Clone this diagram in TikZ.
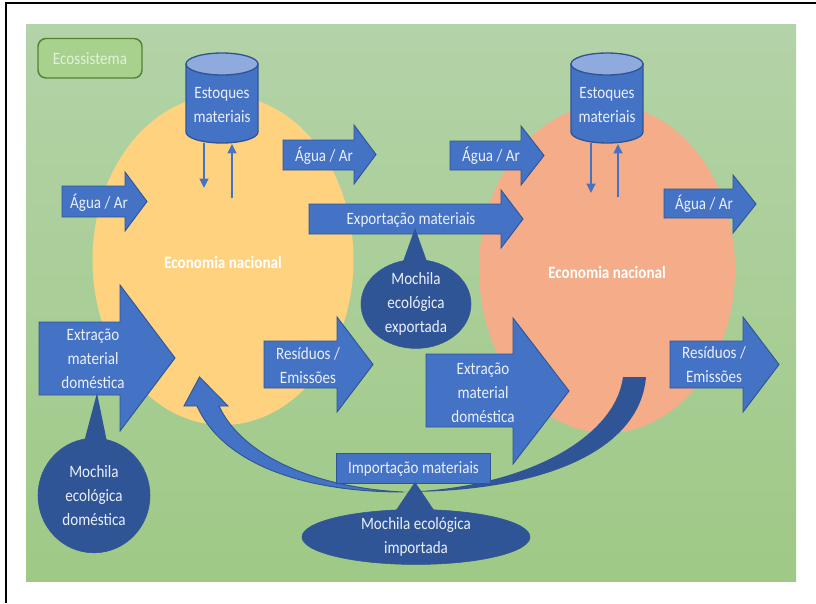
\documentclass[tikz,border=0pt]{standalone}
\usepackage{fontspec}
\setmainfont[FakeStretch=0.87]{Carlito}
\usetikzlibrary{shapes.geometric,arrows.meta}
\definecolor{flow}{HTML}{4472C4}
\definecolor{flowdark}{HTML}{2F5597}
\definecolor{flowlight}{HTML}{8FAADC}
\definecolor{txt}{HTML}{EAF0FA}
\definecolor{econA}{HTML}{FFD27F}
\definecolor{econB}{HTML}{F4AD88}
\definecolor{bgtop}{HTML}{B3D3A8}
\definecolor{bgbot}{HTML}{9FC986}
\definecolor{ecofill}{HTML}{A9D18E}
\definecolor{ecoline}{HTML}{548235}
\definecolor{ecotext}{HTML}{E2F0D9}
\tikzset{
  labelfont/.style={font=\fontsize{13}{18}\selectfont},
  flowshape/.style={fill=flow,draw=flowdark,line width=0.7pt,line join=miter},
  flowtext/.style={text=txt,align=center,inner sep=0pt,labelfont},
  econ/.style={ellipse,inner sep=0pt,draw=none},
  econtext/.style={text=white,inner sep=0pt,font=\fontsize{13}{18}\selectfont\bfseries},
  backpack/.style={ellipse,fill=flowdark,draw=flowdark,inner sep=0pt,text=txt,align=center,labelfont},
  spike/.style={fill=flowdark},
  stockarrow/.style={draw=flow,line width=1.6pt,-{Triangle[length=7pt,width=6.5pt]}},
  cylbody/.style={fill=flow,draw=flowdark,line width=1pt},
  cyltop/.style={fill=flowlight,draw=flowdark,line width=1pt}
}
% tail x, neck x, tip x, shaft top, shaft bottom, head top, head bottom
\newcommand{\flowarrow}[7]{%
  \draw[flowshape] (#1,#4) -- (#2,#4) -- (#2,#6) -- (#3,{(#6+#7)/2}) -- (#2,#7) -- (#2,#5) -- (#1,#5) -- cycle;}
% centre x of a stock cylinder
\newcommand{\stock}[1]{%
  \draw[cylbody] ({#1-36},64) -- ({#1-36},132) arc[start angle=180,end angle=0,x radius=36,y radius=11] -- ({#1+36},64) -- cycle;
  \draw[cyltop] (#1,64) ellipse[x radius=36,y radius=11];}
\begin{document}
\begin{tikzpicture}[x=0.75pt,y=-0.75pt]
\useasboundingbox (0,0) rectangle (816,603);
\fill[white] (0,0) rectangle (816,603);
\draw[black,line width=1.5pt] (5.5,603) -- (5.5,2.5) -- (816,2.5);
\shade[top color=bgtop,bottom color=bgbot] (26,24) rectangle (796,581);

\node[fill=econA,econ,minimum width=195.75pt,minimum height=247.5pt] (econ1) at (223,260) {};
\node[fill=econB,econ,minimum width=192pt,minimum height=246pt] (econ2) at (607,269) {};
\node[econtext] (econ1t) at (223,262) {Economia nacional};
\node[econtext] (econ2t) at (607,272) {Economia nacional};

\draw[draw=ecoline,fill=ecofill,line width=1.1pt,rounded corners=6pt] (38,38.5) rectangle (142,78);
\node[flowtext,text=ecotext] (eco) at (90,59) {Ecossistema};

% stocks
\stock{222}
\stock{607}
\node[flowtext] (stock1) at (222,105) {Estoques\\materiais};
\node[flowtext] (stock2) at (607,105) {Estoques\\materiais};
\coordinate (s1a) at (204,143); \coordinate (s1b) at (204,188);
\coordinate (s1c) at (232,198); \coordinate (s1d) at (232,144);
\coordinate (s2a) at (591,143); \coordinate (s2b) at (591,193);
\coordinate (s2c) at (618,197); \coordinate (s2d) at (618,144);
\draw[stockarrow] (s1a) -- (s1b);
\draw[stockarrow] (s1c) -- (s1d);
\draw[stockarrow] (s2a) -- (s2b);
\draw[stockarrow] (s2c) -- (s2d);

% water / air
\flowarrow{62}{125}{147}{186}{217}{172}{231}
\node[flowtext] (wa1) at (99,203) {Água / Ar};
\flowarrow{283}{354}{376}{140}{170}{125}{184}
\node[flowtext] (wa2) at (324,156) {Água / Ar};
\flowarrow{450}{521}{544}{141}{170}{126}{185}
\node[flowtext] (wa3) at (491,156) {Água / Ar};
\flowarrow{664}{733}{756}{189}{218}{175}{233}
\node[flowtext] (wa4) at (704,204) {Água / Ar};

% curved import arrow
\fill[flowdark] (646,377) .. controls (640,450) and (545,492) .. (403,492)
   .. controls (525,488) and (615,438) .. (623,377) -- cycle;
\draw[flowshape] (403,492) .. controls (320,488) and (243,458) .. (219,406) -- (228,406)
   -- (199.5,377) -- (184,406) -- (197,406) .. controls (222,462) and (300,492) .. (403,492) -- cycle;

% exports
\flowarrow{309}{501}{523}{204}{234}{190}{248}
\node[flowtext] (exp) at (411,220) {Exportação materiais};
\fill[spike] (415,228) -- (400,270) -- (430,270) -- cycle;
\node[backpack,minimum width=82.5pt,minimum height=66pt] (bpexp) at (416,304) {Mochila\\ecológica\\exportada};

% extraction
\flowarrow{39}{120}{175}{322}{395}{285}{431}
\node[flowtext] (ext1) at (93,359) {Extração\\material\\doméstica};
\flowarrow{426}{513}{569}{354}{427}{318}{464}
\node[flowtext] (ext2) at (483,393) {Extração\\material\\doméstica};

\flowarrow{264}{337}{373}{341}{388}{317}{412}
\node[flowtext] (res1) at (308,366) {Resíduos /\\Emissões};
\flowarrow{670}{743}{779}{341}{388}{317}{412}
\node[flowtext] (res2) at (714,365) {Resíduos /\\Emissões};

\fill[spike] (97,393) -- (84,442) -- (107,442) -- cycle;
\node[backpack,minimum width=84pt,minimum height=86pt] (bpdom) at (94,495.5) {Mochila\\ecológica\\doméstica};

\node[fill=flow,draw=flowdark,line width=0.7pt,minimum width=116pt,minimum height=23pt,inner sep=0pt,text=txt,labelfont] (imp) at (413.5,468.5) {Importação materiais};
\fill[spike] (415,482) -- (392,516) -- (438,516) -- cycle;
\node[backpack,minimum width=171pt,minimum height=37.5pt] (bpimp) at (416,537) {Mochila ecológica\\importada};
\end{tikzpicture}
\end{document}
